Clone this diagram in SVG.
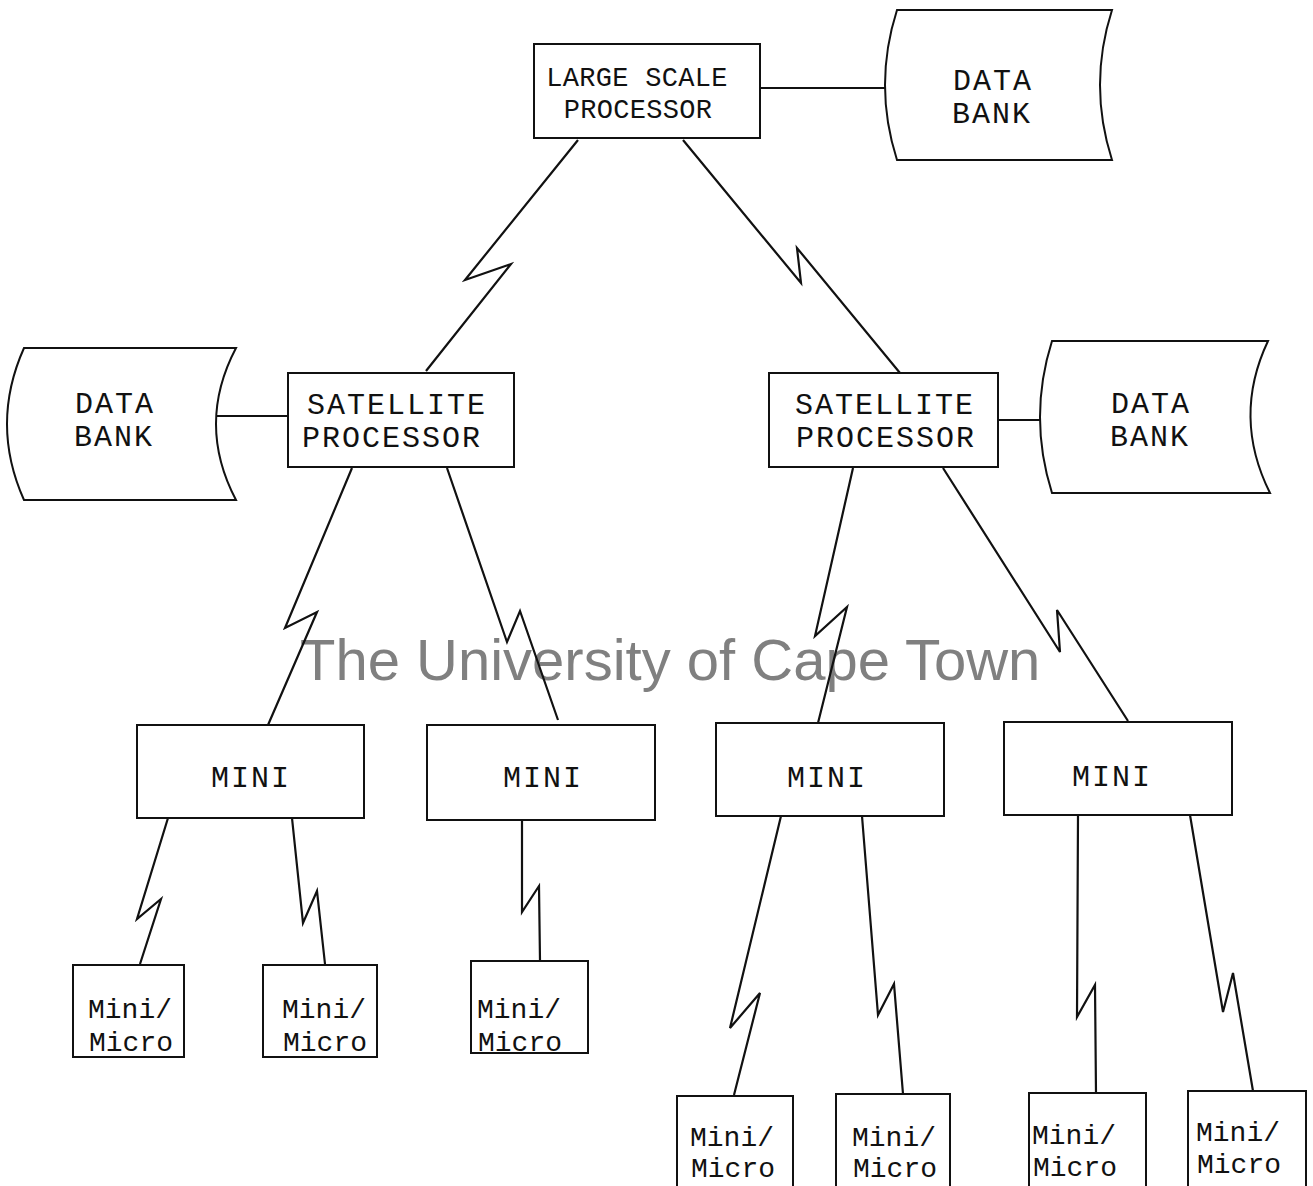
<svg xmlns="http://www.w3.org/2000/svg" width="1313" height="1186" viewBox="0 0 1313 1186">
<style>
.box{fill:#fff;stroke:#111;stroke-width:2}
.db{fill:#fff;stroke:#111;stroke-width:2}
.ln{fill:none;stroke:#111;stroke-width:2.2;stroke-linejoin:miter}
.t{font-family:"Liberation Mono","DejaVu Sans Mono",monospace;font-size:30px;letter-spacing:2px;fill:#111;text-anchor:middle}
.tl{font-family:"Liberation Mono","DejaVu Sans Mono",monospace;font-size:27px;letter-spacing:0.3px;fill:#111;text-anchor:middle}
.tm{font-family:"Liberation Mono","DejaVu Sans Mono",monospace;font-size:28px;fill:#111}
.wm{font-family:"Liberation Sans",Arial,sans-serif;font-size:58px;fill:#808080}
</style>
<rect width="1313" height="1186" fill="#fff"/>
<text class="wm" x="300" y="680">The University of Cape Town</text>
<g id="connectors">
<line class="ln" x1="760" y1="88" x2="885" y2="88"/>
<line class="ln" x1="216" y1="416" x2="288" y2="416"/>
<line class="ln" x1="998" y1="420" x2="1040" y2="420"/>
<polyline class="ln" points="578,140 465,280 511,264 426,371"/>
<polyline class="ln" points="683,140 801,283 797,248 900,373"/>
<polyline class="ln" points="352,468 285,628 317,612 268,725"/>
<polyline class="ln" points="447,468 507,642 520,611 558,720"/>
<polyline class="ln" points="853,468 815,636 847,607 818,723"/>
<polyline class="ln" points="943,468 1060,652 1057,610 1128,721"/>
<polyline class="ln" points="168,818 137,919 161,899 140,964"/>
<polyline class="ln" points="292,818 303,923 317,891 325,964"/>
<polyline class="ln" points="522,820 522,912 539,886 540,961"/>
<polyline class="ln" points="781,816 730,1028 760,993 734,1095"/>
<polyline class="ln" points="862,816 878,1015 894,984 903,1094"/>
<polyline class="ln" points="1078,815 1077,1017 1095,985 1096,1093"/>
<polyline class="ln" points="1190,815 1223,1012 1233,973 1253,1091"/>
</g>
<g id="large-scale-processor">
<rect class="box" x="534" y="44" width="226" height="94"/>
<text class="tl" x="637" y="86">LARGE SCALE</text>
<text class="tl" x="638" y="118">PROCESSOR</text>
</g>
<g id="data-bank-top">
<path class="db" d="M897,10 L1112,10 Q1088,85 1112,160 L897,160 Q873,85 897,10 Z"/>
<text class="t" x="993" y="90">DATA</text>
<text class="t" x="992" y="123">BANK</text>
</g>
<g id="data-bank-left">
<path class="db" d="M24,348 L236,348 Q196,424 236,500 L24,500 Q-10,424 24,348 Z"/>
<text class="t" x="115" y="413">DATA</text>
<text class="t" x="114" y="446">BANK</text>
</g>
<g id="satellite-left">
<rect class="box" x="288" y="373" width="226" height="94"/>
<text class="t" x="397" y="414">SATELLITE</text>
<text class="t" x="392" y="447">PROCESSOR</text>
</g>
<g id="satellite-right">
<rect class="box" x="769" y="373" width="229" height="94"/>
<text class="t" x="885" y="414">SATELLITE</text>
<text class="t" x="886" y="447">PROCESSOR</text>
</g>
<g id="data-bank-right">
<path class="db" d="M1052,341 L1268,341 Q1232,417 1270,493 L1052,493 Q1028,417 1052,341 Z"/>
<text class="t" x="1151" y="413">DATA</text>
<text class="t" x="1150" y="446">BANK</text>
</g>
<g id="mini-1">
<rect class="box" x="137" y="725" width="227" height="93"/>
<text class="t" x="251" y="787">MINI</text>
</g>
<g id="mini-2">
<rect class="box" x="427" y="725" width="228" height="95"/>
<text class="t" x="543" y="787">MINI</text>
</g>
<g id="mini-3">
<rect class="box" x="716" y="723" width="228" height="93"/>
<text class="t" x="827" y="787">MINI</text>
</g>
<g id="mini-4">
<rect class="box" x="1004" y="722" width="228" height="93"/>
<text class="t" x="1112" y="786">MINI</text>
</g>
<g id="mm-1">
<rect class="box" x="73" y="965" width="111" height="92"/>
<text class="tm" x="88" y="1018">Mini/</text>
<text class="tm" x="89" y="1051">Micro</text>
</g>
<g id="mm-2">
<rect class="box" x="263" y="965" width="114" height="92"/>
<text class="tm" x="282" y="1018">Mini/</text>
<text class="tm" x="283" y="1051">Micro</text>
</g>
<g id="mm-3">
<rect class="box" x="471" y="961" width="117" height="92"/>
<text class="tm" x="477" y="1018">Mini/</text>
<text class="tm" x="478" y="1051">Micro</text>
</g>
<g id="mm-4">
<rect class="box" x="677" y="1096" width="116" height="110"/>
<text class="tm" x="690" y="1146">Mini/</text>
<text class="tm" x="691" y="1177">Micro</text>
</g>
<g id="mm-5">
<rect class="box" x="836" y="1094" width="114" height="110"/>
<text class="tm" x="852" y="1146">Mini/</text>
<text class="tm" x="853" y="1177">Micro</text>
</g>
<g id="mm-6">
<rect class="box" x="1029" y="1093" width="117" height="110"/>
<text class="tm" x="1032" y="1144">Mini/</text>
<text class="tm" x="1033" y="1176">Micro</text>
</g>
<g id="mm-7">
<rect class="box" x="1188" y="1091" width="118" height="110"/>
<text class="tm" x="1196" y="1141">Mini/</text>
<text class="tm" x="1197" y="1173">Micro</text>
</g>
</svg>
